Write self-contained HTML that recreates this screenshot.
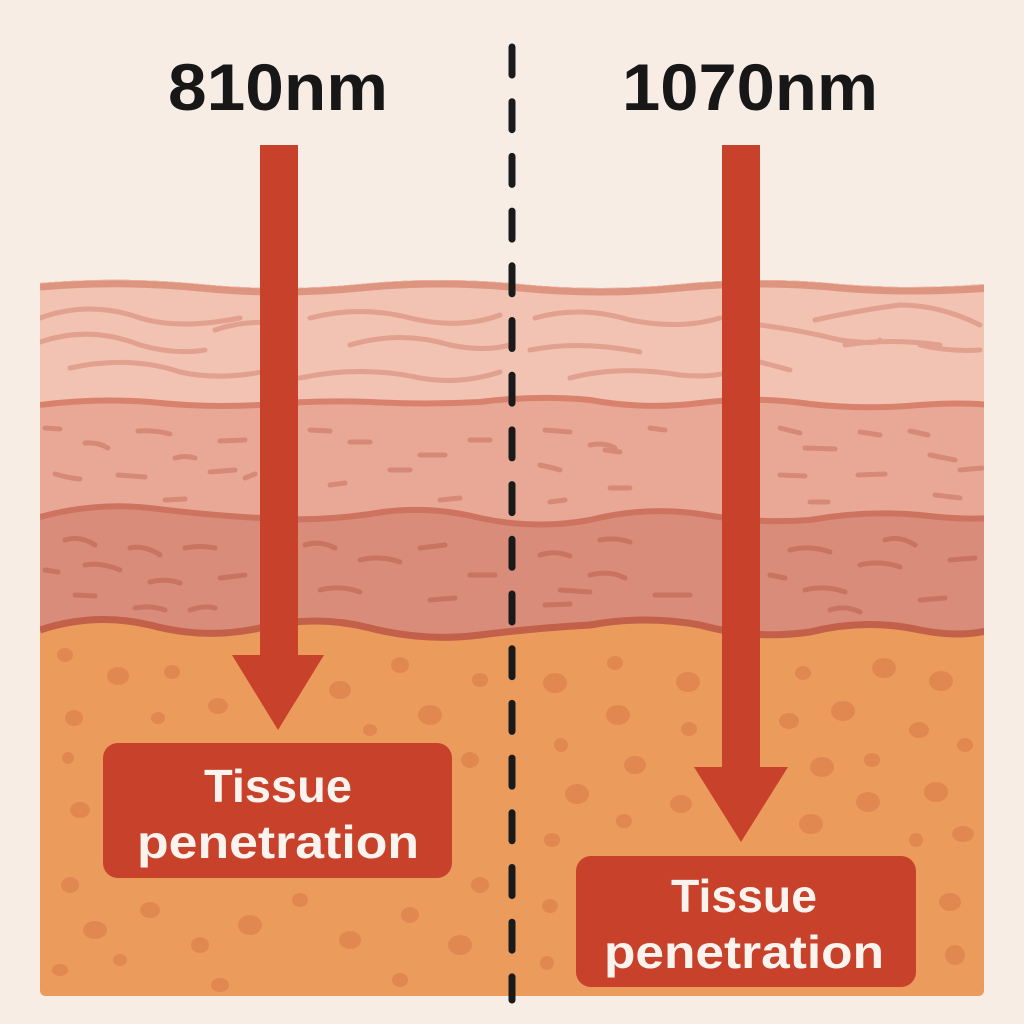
<!DOCTYPE html>
<html><head><meta charset="utf-8"><style>
html,body{margin:0;padding:0;background:#f7ede5;}
svg{display:block;}
text{font-family:"Liberation Sans",sans-serif;font-weight:bold;}
</style></head><body>
<svg width="1024" height="1024" viewBox="0 0 1024 1024" xmlns="http://www.w3.org/2000/svg">
<rect width="1024" height="1024" fill="#f7ede5"/>
<defs><clipPath id="c"><path d="M40 283 Q120 276 200 284 Q280 292 360 284 Q440 276 520 284 Q600 292 680 284 Q760 276 840 284 Q910 290 984 284 L984 990 Q984 996 978 996 L46 996 Q40 996 40 990Z"/></clipPath></defs>
<g clip-path="url(#c)">
<rect x="40" y="270" width="944" height="726" fill="#eb9c5c"/>
<path d="M40 630 Q95 612 150 625 Q205 640 260 628 Q315 614 370 628 Q425 642 480 635 Q535 628 590 625 Q645 615 700 625 Q755 640 810 632 Q865 618 920 630 Q960 638 990 630 L990 270 L40 270Z" fill="#d98c7a"/>
<path d="M40 630 Q95 612 150 625 Q205 640 260 628 Q315 614 370 628 Q425 642 480 635 Q535 628 590 625 Q645 615 700 625 Q755 640 810 632 Q865 618 920 630 Q960 638 990 630" fill="none" stroke="#c2604a" stroke-width="7"/>
<path d="M40 517 Q95 502 150 508 Q205 515 260 518 Q315 522 370 514 Q425 504 480 518 Q535 530 590 520 Q645 506 700 514 Q755 524 810 520 Q865 510 920 515 Q960 520 990 518 L990 270 L40 270Z" fill="#e9a896"/>
<path d="M40 517 Q95 502 150 508 Q205 515 260 518 Q315 522 370 514 Q425 504 480 518 Q535 530 590 520 Q645 506 700 514 Q755 524 810 520 Q865 510 920 515 Q960 520 990 518" fill="none" stroke="#cd7360" stroke-width="6"/>
<path d="M40 405 Q95 398 150 402 Q205 408 260 405 Q315 400 370 402 Q425 405 480 402 Q535 395 590 400 Q645 410 700 403 Q755 396 810 404 Q865 410 920 405 Q960 402 990 405 L990 270 L40 270Z" fill="#f2c2b2"/>
<path d="M40 405 Q95 398 150 402 Q205 408 260 405 Q315 400 370 402 Q425 405 480 402 Q535 395 590 400 Q645 410 700 403 Q755 396 810 404 Q865 410 920 405 Q960 402 990 405" fill="none" stroke="#d8826d" stroke-width="6"/>
<path d="M40 287 Q120 280 200 288 Q280 296 360 288 Q440 280 520 288 Q600 296 680 288 Q760 280 840 288 Q910 294 990 288" fill="none" stroke="#de9580" stroke-width="7"/>
<g fill="none" stroke="#e2a08e" stroke-width="5" stroke-linecap="round">
<path d="M40 318 Q90 300 140 318 Q180 330 240 318"/><path d="M215 330 Q250 318 285 325"/>
<path d="M40 342 Q90 325 140 345 Q175 355 205 350"/><path d="M70 368 Q130 355 180 372 Q225 382 280 368"/>
<path d="M310 318 Q360 305 410 318 Q460 330 500 315"/><path d="M350 345 Q400 330 450 345 Q485 352 510 345"/>
<path d="M300 378 Q360 365 420 378 Q460 385 500 372"/>
<path d="M535 318 Q580 305 630 320 Q680 330 720 318"/><path d="M530 350 Q580 340 640 352"/>
<path d="M570 378 Q620 365 680 375 Q710 378 730 372"/>
<path d="M760 325 Q800 330 840 340 Q880 345 880 340"/><path d="M815 320 Q860 310 900 305 Q940 305 980 325"/>
<path d="M845 345 Q890 338 940 345"/><path d="M920 345 Q950 352 980 350"/>
<path d="M760 362 L790 370"/>
</g>
<g fill="none" stroke="#d68a75" stroke-width="5" stroke-linecap="round">
<path d="M45 428 L60 429"/><path d="M138 431 Q155 430 170 434"/><path d="M85 443 Q98 442 108 448"/><path d="M175 458 Q185 455 195 458"/><path d="M55 474 Q68 478 80 479"/><path d="M118 475 L145 477"/><path d="M210 472 L235 470"/><path d="M165 500 L185 499"/><path d="M220 441 L245 440"/><path d="M245 478 L255 474"/>
<path d="M545 430 L570 432"/><path d="M590 445 Q605 442 615 448"/><path d="M540 465 Q550 467 560 470"/><path d="M610 488 L630 488"/><path d="M550 502 L565 500"/><path d="M605 450 L620 452"/><path d="M650 428 L665 430"/>
<path d="M310 430 L330 431"/><path d="M350 442 L370 442"/><path d="M390 470 L410 470"/><path d="M330 485 L345 483"/><path d="M420 455 L445 455"/><path d="M440 500 L460 498"/><path d="M470 440 L490 440"/>
<path d="M780 428 L800 433"/><path d="M805 448 L835 449"/><path d="M780 475 L805 476"/><path d="M810 502 L828 502"/><path d="M860 432 L880 435"/><path d="M858 475 L885 474"/><path d="M910 431 L928 435"/><path d="M930 455 L955 460"/><path d="M935 495 L960 498"/><path d="M960 470 L982 468"/>
</g>
<g fill="none" stroke="#c97462" stroke-width="5" stroke-linecap="round">
<path d="M65 540 Q80 535 95 545"/><path d="M130 548 Q145 545 160 555"/><path d="M185 548 Q200 545 215 548"/><path d="M85 565 Q100 562 120 570"/><path d="M45 570 L58 572"/><path d="M150 582 Q165 578 180 583"/><path d="M75 595 L95 596"/><path d="M135 608 Q150 605 165 610"/><path d="M190 610 Q205 605 215 608"/><path d="M220 578 L245 575"/>
<path d="M305 545 Q320 540 335 548"/><path d="M360 560 Q380 555 400 562"/><path d="M320 590 Q340 585 360 592"/><path d="M420 548 L445 545"/><path d="M430 600 L455 598"/><path d="M470 575 L495 575"/>
<path d="M540 555 Q555 550 570 556"/><path d="M590 575 Q610 570 625 578"/><path d="M545 605 L570 604"/><path d="M600 540 Q615 537 630 542"/><path d="M655 595 L690 595"/><path d="M560 590 L590 592"/>
<path d="M790 550 Q810 545 830 552"/><path d="M805 590 Q825 585 845 592"/><path d="M860 565 Q880 560 900 567"/><path d="M885 540 Q900 535 915 545"/><path d="M920 600 L945 598"/><path d="M950 560 L975 558"/><path d="M830 610 Q845 605 860 612"/><path d="M770 575 L785 578"/>
</g>
<g fill="#e08850">
<ellipse cx="65" cy="655" rx="8" ry="7"/><ellipse cx="118" cy="676" rx="11" ry="9"/><ellipse cx="172" cy="672" rx="8" ry="7"/><ellipse cx="74" cy="718" rx="9" ry="8"/><ellipse cx="158" cy="718" rx="7" ry="6"/><ellipse cx="218" cy="706" rx="10" ry="8"/><ellipse cx="68" cy="758" rx="6" ry="6"/><ellipse cx="80" cy="810" rx="10" ry="8"/><ellipse cx="70" cy="885" rx="9" ry="8"/><ellipse cx="95" cy="930" rx="12" ry="9"/><ellipse cx="150" cy="910" rx="10" ry="8"/><ellipse cx="200" cy="945" rx="9" ry="8"/><ellipse cx="250" cy="925" rx="12" ry="10"/><ellipse cx="300" cy="900" rx="8" ry="7"/><ellipse cx="350" cy="940" rx="11" ry="9"/><ellipse cx="410" cy="915" rx="9" ry="8"/><ellipse cx="460" cy="945" rx="12" ry="10"/><ellipse cx="480" cy="885" rx="9" ry="8"/><ellipse cx="340" cy="690" rx="11" ry="9"/><ellipse cx="400" cy="665" rx="9" ry="8"/><ellipse cx="430" cy="715" rx="12" ry="10"/><ellipse cx="480" cy="680" rx="8" ry="7"/><ellipse cx="370" cy="730" rx="7" ry="6"/><ellipse cx="470" cy="760" rx="9" ry="8"/><ellipse cx="120" cy="960" rx="7" ry="6"/><ellipse cx="60" cy="970" rx="8" ry="6"/><ellipse cx="220" cy="985" rx="9" ry="7"/><ellipse cx="400" cy="980" rx="8" ry="7"/>
<ellipse cx="555" cy="683" rx="12" ry="10"/><ellipse cx="615" cy="663" rx="8" ry="7"/><ellipse cx="618" cy="715" rx="12" ry="10"/><ellipse cx="688" cy="682" rx="12" ry="10"/><ellipse cx="689" cy="729" rx="8" ry="7"/><ellipse cx="561" cy="745" rx="7" ry="7"/><ellipse cx="635" cy="765" rx="11" ry="9"/><ellipse cx="577" cy="794" rx="12" ry="10"/><ellipse cx="681" cy="804" rx="11" ry="9"/><ellipse cx="624" cy="821" rx="8" ry="7"/><ellipse cx="552" cy="840" rx="8" ry="7"/><ellipse cx="550" cy="906" rx="8" ry="7"/><ellipse cx="547" cy="963" rx="7" ry="7"/>
<ellipse cx="803" cy="673" rx="8" ry="7"/><ellipse cx="884" cy="668" rx="12" ry="10"/><ellipse cx="941" cy="681" rx="12" ry="10"/><ellipse cx="789" cy="721" rx="10" ry="8"/><ellipse cx="843" cy="711" rx="12" ry="10"/><ellipse cx="919" cy="730" rx="10" ry="8"/><ellipse cx="965" cy="745" rx="8" ry="7"/><ellipse cx="822" cy="767" rx="12" ry="10"/><ellipse cx="872" cy="760" rx="8" ry="7"/><ellipse cx="936" cy="792" rx="12" ry="10"/><ellipse cx="868" cy="802" rx="12" ry="10"/><ellipse cx="811" cy="824" rx="12" ry="10"/><ellipse cx="916" cy="840" rx="7" ry="7"/><ellipse cx="963" cy="834" rx="11" ry="8"/><ellipse cx="950" cy="902" rx="11" ry="9"/><ellipse cx="955" cy="955" rx="10" ry="10"/>
</g>
</g>
<line x1="512" y1="47" x2="512" y2="1000" stroke="#1a1a1a" stroke-width="7" stroke-linecap="round" stroke-dasharray="28 26.7"/>
<g fill="#c8412a">
<rect x="260" y="145" width="38" height="512"/>
<polygon points="232,655 324,655 278,730"/>
<rect x="722" y="145" width="38" height="624"/>
<polygon points="694,767 788,767 741,842"/>
<rect x="103" y="743" width="349" height="135" rx="15"/>
<rect x="576" y="856" width="340" height="131" rx="15"/>
</g>
<text x="278" y="110" font-size="66" fill="#171717" text-anchor="middle" textLength="220" lengthAdjust="spacingAndGlyphs">810nm</text>
<text x="750" y="110" font-size="66" fill="#171717" text-anchor="middle" textLength="256" lengthAdjust="spacingAndGlyphs">1070nm</text>
<g fill="#fbf4ee" font-size="46" text-anchor="middle">
<text x="278" y="802" textLength="148" lengthAdjust="spacingAndGlyphs">Tissue</text>
<text x="278" y="858" textLength="282" lengthAdjust="spacingAndGlyphs">penetration</text>
<text x="744" y="912" textLength="146" lengthAdjust="spacingAndGlyphs">Tissue</text>
<text x="744" y="968" textLength="280" lengthAdjust="spacingAndGlyphs">penetration</text>
</g>
</svg>
</body></html>
